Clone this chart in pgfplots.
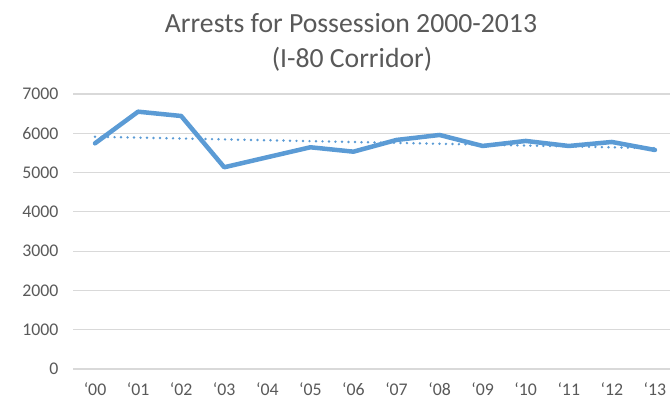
\documentclass[border=0pt]{standalone}
\usepackage{pgfplots}
\pgfplotsset{compat=1.18}
\usepackage{fontspec}
\setmainfont{Carlito}
\definecolor{serie}{HTML}{5B9BD5}
\definecolor{gridc}{HTML}{D9D9D9}
\definecolor{txt}{HTML}{595959}
\begin{document}
\begin{tikzpicture}[x=1pt,y=1pt]
\useasboundingbox (0,0) rectangle (670,402);
\begin{axis}[
  at={(73.5pt,33pt)}, anchor=south west,
  scale only axis, width=596.5pt, height=275pt,
  xmin=-0.5, xmax=13.35, ymin=0, ymax=7000,
  axis line style={draw=none}, tick style={draw=none},
  ymajorgrids, grid style={gridc, line width=1.2pt},
  ytick={0,1000,...,7000},
  xtick={0,...,13},
  xticklabels={‘00,‘01,‘02,‘03,‘04,‘05,‘06,‘07,‘08,‘09,‘10,‘11,‘12,‘13},
  ticklabel style={font=\fontsize{17.8}{20}\selectfont, text=txt},
  /pgf/number format/assume math mode=true,
  scaled y ticks=false,
  y tick label style={/pgf/number format/1000 sep={}, xshift=-11.5pt},
  x tick label style={yshift=-10pt},
  clip=false,
]
\addplot[serie, line width=2.7pt, line cap=round, dash pattern=on 0pt off 6.5pt]
  coordinates {(0,5912) (13,5621)};
\addplot[serie, line width=4.5pt, line join=round, line cap=round]
  coordinates {(0,5745) (1,6550) (2,6440) (3,5135) (4,5390) (5,5644) (6,5532)
               (7,5830) (8,5957) (9,5677) (10,5805) (11,5677) (12,5779) (13,5575)};
\end{axis}
\node[font=\fontsize{27.7}{34}\selectfont, text=txt, anchor=base] at (351,369) {Arrests for Possession 2000-2013};
\node[font=\fontsize{27.7}{34}\selectfont, text=txt, anchor=base] at (352,334) {(I-80 Corridor)};
\end{tikzpicture}
\end{document}
